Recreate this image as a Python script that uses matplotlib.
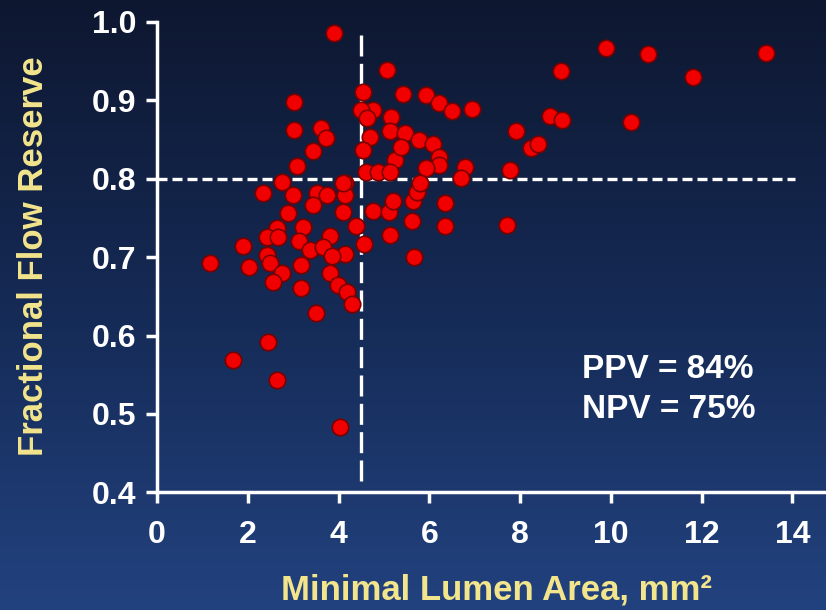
import numpy as np
import matplotlib
matplotlib.use("Agg")
import matplotlib.pyplot as plt

# Minimal lumen area (mm^2) vs fractional flow reserve
mla = [3.90, 5.07, 3.02, 3.02, 3.61, 3.72, 3.44, 3.08, 4.54, 4.76,
       4.49, 4.63, 5.15, 5.13, 4.69, 4.54, 5.24, 4.60, 4.87, 5.13,
       5.42, 5.93, 6.21, 6.50, 6.94, 5.46, 5.77, 6.08, 5.37, 6.21,
       6.21, 5.93, 6.78, 6.70, 7.78, 7.91, 8.24, 8.39, 8.66, 8.92,
       8.90, 9.89, 10.81, 11.81, 10.44, 13.41, 7.71, 4.14, 4.14, 4.10,
       4.76, 5.11, 5.20, 5.64, 5.73, 5.79, 6.34, 5.62, 6.34, 4.38,
       5.13, 4.56, 4.14, 5.66, 2.75, 2.33, 3.00, 3.52, 3.74, 4.10,
       3.44, 2.89, 3.22, 2.64, 2.42, 2.67, 3.81, 3.13, 1.89, 3.37,
       3.66, 3.85, 1.17, 2.03, 2.42, 2.49, 2.75, 2.56, 3.17, 3.17,
       3.81, 3.99, 4.19, 4.30, 3.50, 2.44, 1.67, 2.64, 4.03]
ffr = [0.986, 0.939, 0.898, 0.862, 0.865, 0.852, 0.835, 0.816, 0.911, 0.888,
       0.888, 0.877, 0.879, 0.861, 0.853, 0.837, 0.824, 0.809, 0.809, 0.809,
       0.908, 0.907, 0.897, 0.886, 0.889, 0.858, 0.849, 0.844, 0.840, 0.828,
       0.817, 0.814, 0.815, 0.801, 0.811, 0.861, 0.839, 0.844, 0.880, 0.875,
       0.937, 0.967, 0.959, 0.930, 0.872, 0.960, 0.741, 0.795, 0.779, 0.757,
       0.759, 0.757, 0.772, 0.772, 0.783, 0.795, 0.769, 0.746, 0.740, 0.740,
       0.728, 0.717, 0.704, 0.700, 0.796, 0.782, 0.779, 0.782, 0.779, 0.795,
       0.766, 0.756, 0.738, 0.737, 0.726, 0.726, 0.727, 0.720, 0.714, 0.709,
       0.713, 0.701, 0.692, 0.687, 0.703, 0.692, 0.680, 0.668, 0.690, 0.660,
       0.680, 0.664, 0.655, 0.640, 0.629, 0.592, 0.569, 0.543, 0.483]

x_ticks = [0, 2, 4, 6, 8, 10, 12, 14]
y_ticks = [0.4, 0.5, 0.6, 0.7, 0.8, 0.9, 1.0]
mla_cut = 4.5
ffr_cut = 0.8

plt.rcParams['font.family'] = ['Liberation Sans', 'DejaVu Sans']
plt.rcParams['font.weight'] = 'bold'

fig = plt.figure(figsize=(8.26, 6.10), dpi=100)

# gradient background: dark navy at top to blue at bottom
bg = fig.add_axes([0, 0, 1, 1], zorder=-1)
grad = np.linspace(0, 1, 256).reshape(-1, 1)
cmap = matplotlib.colors.LinearSegmentedColormap.from_list("bg", ["#0e1730", "#152a55", "#22427f"])
bg.imshow(grad, aspect='auto', cmap=cmap, extent=[0, 1, 0, 1], origin='upper')
bg.axis('off')

ax = fig.add_axes([0.19, 0.193, 0.81, 0.771])
ax.patch.set_alpha(0)

ax.plot([0, 14.05], [ffr_cut, ffr_cut], color='white', lw=2.4, dashes=(3.0, 1.5), zorder=1)
ax.plot([mla_cut, mla_cut], [0.415, 0.985], color='white', lw=2.4, dashes=(6.3, 2.2), zorder=1)

ax.scatter(mla, ffr, s=140, color='#f00000', edgecolors='#7a0000', linewidths=1.2, zorder=3)

ax.set_xlim(0, 14.74)
ax.set_ylim(0.4, 1.0)
ax.set_xticks(x_ticks)
ax.set_yticks(y_ticks)
ax.set_yticklabels([f"{v:.1f}" for v in y_ticks])

for side in ['top', 'right']:
    ax.spines[side].set_visible(False)
for side in ['left', 'bottom']:
    ax.spines[side].set_color('white')
    ax.spines[side].set_linewidth(2.5)
ax.tick_params(colors='white', width=2.5, length=8, labelsize=23)
ax.tick_params(axis='x', pad=12)
ax.tick_params(axis='y', pad=7)
for lab in ax.get_xticklabels() + ax.get_yticklabels():
    lab.set_fontweight('bold')

ax.set_xlabel("Minimal Lumen Area, mm²", color='#f3e58c', fontsize=25,
              fontweight='bold')
ax.set_ylabel("Fractional Flow Reserve", color='#f3e58c', fontsize=25,
              fontweight='bold')
ax.xaxis.label.set_va('center')
ax.yaxis.label.set_va('center')
ax.xaxis.set_label_coords(0.508, -0.2085)
ax.yaxis.set_label_coords(-0.184, 0.502)

ax.text(9.36, 0.546, "PPV = 84%", color='white', fontsize=24, fontweight='bold', va='baseline')
ax.text(9.36, 0.4945, "NPV = 75%", color='white', fontsize=24, fontweight='bold', va='baseline')

fig.savefig("out.png", dpi=100)
